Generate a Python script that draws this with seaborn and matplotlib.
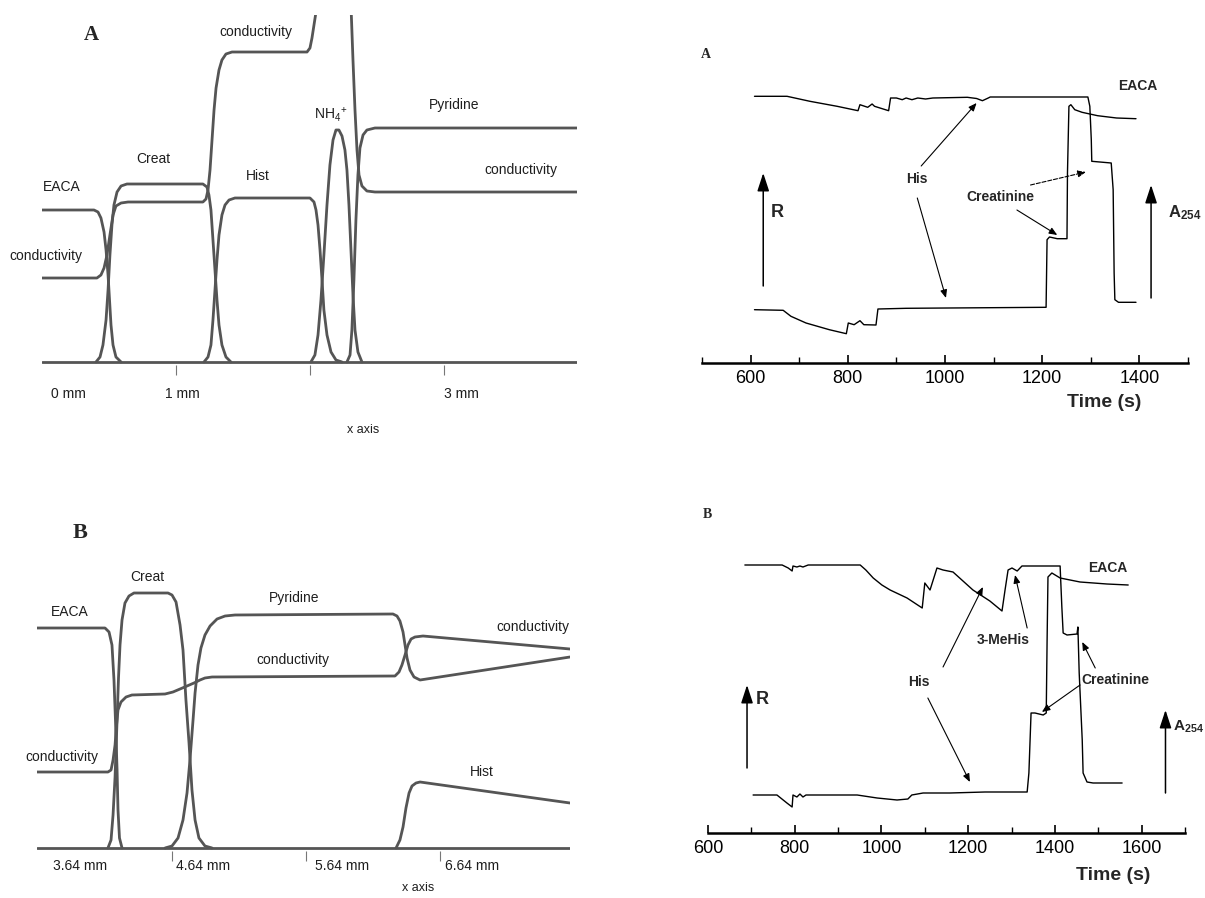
import matplotlib
matplotlib.use('Agg')
import matplotlib.pyplot as plt
import seaborn as sns

sns.set_theme(style='white')
plt.rcParams['font.family'] = ['Liberation Sans', 'DejaVu Sans']
plt.rcParams['mathtext.fontset'] = 'custom'
plt.rcParams['mathtext.rm'] = 'Liberation Sans'
plt.rcParams['mathtext.it'] = 'Liberation Sans:italic'
plt.rcParams['mathtext.bf'] = 'Liberation Sans:bold'

# ---------------- Simulation A (x in mm, arbitrary concentration) ----------------
simA_base_x = [0.0, 3.993]
simA_base_y = [0.0, 0.0]
simA_eaca_x = [0.0, 0.388, 0.418, 0.440, 0.463, 0.478, 0.493, 0.504, 0.515, 0.530, 0.552, 0.590]
simA_eaca_y = [1.52, 1.52, 1.50, 1.44, 1.30, 1.12, 0.87, 0.62, 0.37, 0.17, 0.05, 0.0]
simA_creat_x = [0.403, 0.433, 0.455, 0.478, 0.493, 0.507, 0.522, 0.537, 0.560, 0.590, 0.634,
                1.201, 1.231, 1.246, 1.261, 1.276, 1.291, 1.306, 1.321, 1.343, 1.373, 1.410]
simA_creat_y = [0, 0.05, 0.17, 0.42, 0.72, 1.07, 1.37, 1.57, 1.70, 1.76, 1.78,
                1.78, 1.75, 1.67, 1.52, 1.22, 0.92, 0.62, 0.37, 0.17, 0.05, 0]
simA_cond1_x = [0.0, 0.410, 0.440, 0.463, 0.485, 0.507, 0.530, 0.552, 0.590, 0.642,
                1.201, 1.224, 1.239, 1.254, 1.269, 1.284, 1.299, 1.321, 1.343, 1.373,
                1.418, 1.978, 2.000, 2.015, 2.030, 2.045]
simA_cond1_y = [0.84, 0.84, 0.87, 0.94, 1.07, 1.27, 1.47, 1.56, 1.59, 1.60,
                1.60, 1.63, 1.72, 1.92, 2.22, 2.52, 2.74, 2.92, 3.02, 3.08,
                3.10, 3.10, 3.14, 3.24, 3.37, 3.50]
simA_cond2_x = [2.306, 2.321, 2.336, 2.351, 2.366, 2.388, 2.425, 2.485, 3.993]
simA_cond2_y = [3.57, 3.02, 2.52, 2.12, 1.87, 1.76, 1.71, 1.70, 1.70]
simA_hist_x = [1.209, 1.239, 1.261, 1.276, 1.291, 1.306, 1.321, 1.343, 1.366, 1.396, 1.440,
               2.000, 2.030, 2.045, 2.060, 2.075, 2.090, 2.104, 2.127, 2.157, 2.194, 2.239]
simA_hist_y = [0, 0.05, 0.17, 0.42, 0.72, 1.02, 1.27, 1.47, 1.57, 1.62, 1.64,
               1.64, 1.60, 1.52, 1.37, 1.12, 0.82, 0.52, 0.27, 0.10, 0.02, 0]
simA_nh4_x = [2.007, 2.037, 2.060, 2.082, 2.104, 2.127, 2.149, 2.172, 2.194, 2.216,
              2.239, 2.261, 2.276, 2.291, 2.306, 2.321, 2.336, 2.358, 2.388]
simA_nh4_y = [0, 0.07, 0.27, 0.62, 1.07, 1.57, 1.97, 2.22, 2.32, 2.32,
              2.26, 2.12, 1.92, 1.57, 1.12, 0.67, 0.32, 0.10, 0]
simA_pyr_x = [2.276, 2.299, 2.313, 2.328, 2.343, 2.358, 2.373, 2.396, 2.425, 2.485, 3.993]
simA_pyr_y = [0, 0.07, 0.32, 0.82, 1.42, 1.87, 2.14, 2.27, 2.32, 2.34, 2.34]
simA_ticks = [1, 2, 3]
simA_ticklabels = [(0.20, '0 mm'), (1.045, '1 mm'), (3.127, '3 mm')]

# ---------------- Simulation B ----------------
simB_base_x = [3.633, 7.610]
simB_base_y = [0.0, 0.0]
simB_eaca_x = [3.633, 4.140, 4.170, 4.192, 4.207, 4.218, 4.230, 4.237, 4.248, 4.267]
simB_eaca_y = [2.20, 2.20, 2.16, 2.03, 1.68, 1.28, 0.78, 0.38, 0.10, 0.0]
simB_creat_x = [4.162, 4.185, 4.200, 4.215, 4.230, 4.241, 4.252, 4.267, 4.289, 4.319, 4.356,
                4.610, 4.640, 4.670, 4.700, 4.722, 4.744, 4.767, 4.789, 4.812, 4.841, 4.886, 4.939]
simB_creat_y = [0, 0.08, 0.33, 0.71, 1.28, 1.71, 2.03, 2.28, 2.45, 2.52, 2.55,
                2.55, 2.53, 2.46, 2.23, 1.98, 1.48, 1.05, 0.58, 0.28, 0.10, 0.02, 0]
simB_cond_x = [3.633, 4.162, 4.185, 4.200, 4.215, 4.226, 4.237, 4.259, 4.297, 4.341, 4.588,
               4.647, 4.700, 4.752, 4.804, 4.849, 4.886, 4.939, 6.304, 6.334, 6.356, 6.379,
               6.401, 6.424, 6.453, 6.513, 7.610]
simB_cond_y = [0.76, 0.76, 0.78, 0.88, 1.03, 1.23, 1.38, 1.46, 1.51, 1.53, 1.54,
               1.56, 1.59, 1.62, 1.65, 1.68, 1.70, 1.71, 1.72, 1.76, 1.83, 1.93,
               2.03, 2.09, 2.11, 2.12, 1.99]
simB_pyr_x = [4.588, 4.640, 4.685, 4.722, 4.752, 4.774, 4.797, 4.812, 4.834, 4.856, 4.886,
              4.924, 4.976, 5.036, 5.110, 6.289, 6.319, 6.341, 6.364, 6.379, 6.394, 6.416,
              6.446, 6.491, 7.610]
simB_pyr_y = [0, 0.02, 0.10, 0.28, 0.55, 0.88, 1.28, 1.55, 1.83, 2.00, 2.13,
              2.22, 2.29, 2.32, 2.33, 2.34, 2.32, 2.27, 2.16, 2.03, 1.90, 1.78,
              1.71, 1.68, 1.91]
simB_hist_x = [6.312, 6.341, 6.364, 6.386, 6.409, 6.431, 6.461, 6.491, 7.610]
simB_hist_y = [0, 0.08, 0.21, 0.40, 0.55, 0.62, 0.65, 0.66, 0.45]
simB_ticks = [4.64, 5.64, 6.64]
simB_ticklabels = [(3.953, '3.64 mm'), (4.871, '4.64 mm'), (5.909, '5.64 mm'), (6.879, '6.64 mm')]

# ---------------- Experiment A (time in s) ----------------
expA_R_t = [608, 675, 722, 778, 821, 825, 841, 850, 855, 884, 888, 900, 912, 920, 932,
            944, 960, 975, 1046, 1065, 1077, 1089, 1093, 1294, 1298, 1301, 1302, 1342,
            1346, 1348, 1349.5, 1357, 1393]
expA_R_v = [2.667, 2.667, 2.617, 2.567, 2.523, 2.583, 2.557, 2.590, 2.567, 2.523, 2.650,
            2.650, 2.633, 2.650, 2.633, 2.650, 2.640, 2.650, 2.657, 2.645, 2.623, 2.650,
            2.660, 2.660, 2.567, 2.233, 2.017, 2.000, 1.733, 0.900, 0.633, 0.607, 0.607]
expA_A_t = [608, 667, 683, 714, 762, 797, 801, 813, 825, 833, 858, 862, 920, 1208, 1210,
            1215, 1231, 1251, 1252, 1255, 1259, 1267, 1282, 1314, 1353, 1393]
expA_A_v = [0.533, 0.527, 0.467, 0.400, 0.333, 0.293, 0.400, 0.383, 0.423, 0.383, 0.380,
            0.540, 0.547, 0.557, 1.233, 1.260, 1.243, 1.243, 1.900, 2.567, 2.583, 2.533,
            2.507, 2.473, 2.450, 2.443]
expA_major = [600, 800, 1000, 1200, 1400]
expA_minor = [500, 700, 900, 1100, 1300, 1500]

# ---------------- Experiment B ----------------
expB_R_t = [685, 771, 785, 794, 796, 805, 812, 819, 831, 951, 964, 981, 1001, 1020, 1059,
            1094, 1100, 1112, 1128, 1142, 1165, 1211, 1250, 1278, 1285, 1292, 1301, 1313,
            1324, 1412, 1416, 1419, 1428, 1451, 1453, 1456, 1463, 1465, 1474, 1488, 1555]
expB_R_v = [2.68, 2.68, 2.65, 2.62, 2.67, 2.66, 2.67, 2.66, 2.68, 2.68, 2.63, 2.55, 2.48,
            2.43, 2.35, 2.25, 2.50, 2.43, 2.65, 2.63, 2.61, 2.43, 2.32, 2.22, 2.43, 2.63,
            2.65, 2.62, 2.67, 2.67, 2.26, 2.00, 1.98, 1.99, 2.06, 1.60, 0.93, 0.60, 0.51,
            0.50, 0.50]
expB_A_t = [704, 759, 782, 794, 796, 805, 812, 819, 826, 944, 990, 1036, 1061, 1070, 1096,
            1158, 1239, 1336, 1340, 1345, 1354, 1373, 1380, 1382, 1384, 1393, 1412, 1458,
            1520, 1569]
expB_A_v = [0.38, 0.38, 0.30, 0.26, 0.38, 0.36, 0.39, 0.36, 0.38, 0.38, 0.35, 0.33, 0.34,
            0.38, 0.40, 0.40, 0.41, 0.41, 0.60, 1.20, 1.20, 1.18, 1.20, 1.93, 2.56, 2.60,
            2.55, 2.51, 2.49, 2.48]
expB_major = [600, 800, 1000, 1200, 1400, 1600]
expB_minor = [700, 900, 1100, 1300, 1500, 1700]

# ---------------- Figure ----------------
W, H = 1205, 898
fig = plt.figure(figsize=(W / 100, H / 100), dpi=100)


def rect(x0, x1, ytop, ybot):
    return [x0 / W, 1 - ybot / H, (x1 - x0) / W, (ybot - ytop) / H]


SIM_C = '#555555'
SIM_LW = 2.0
TXT_C = '#1e1e1e'


def sim_line(ax, x, y):
    sns.lineplot(x=x, y=y, ax=ax, color=SIM_C, lw=SIM_LW, sort=False, estimator=None)


def exp_line(ax, x, y):
    sns.lineplot(x=x, y=y, ax=ax, color='black', lw=1.0, sort=False, estimator=None)


def clean_sim(ax, ticks):
    for s in ax.spines.values():
        s.set_visible(False)
    ax.set_xticks(ticks)
    ax.set_xticklabels([])
    ax.set_yticks([])
    ax.tick_params(axis='x', direction='inout', length=7, width=0.8, colors='#777777', bottom=True)
    ax.set_xlabel('')
    ax.set_ylabel('')
    ax.set_facecolor('none')


def clean_exp(ax, major, minor):
    for k in ['top', 'left', 'right']:
        ax.spines[k].set_visible(False)
    ax.spines['bottom'].set_linewidth(1.8)
    ax.spines['bottom'].set_color('black')
    ax.set_yticks([])
    ax.set_xticks(major)
    ax.set_xticks(minor, minor=True)
    ax.set_xticklabels([str(m) for m in major])
    ax.tick_params(axis='x', which='major', direction='in', length=6, width=1.2,
                   colors='black', labelsize=13, pad=5, bottom=True)
    ax.tick_params(axis='x', which='minor', direction='in', length=4, width=1.0,
                   colors='black', bottom=True)
    ax.set_xlabel('')
    ax.set_ylabel('')
    ax.set_facecolor('none')


def arrow(ax, start, end, lw=0.8, ms=8, ls='-'):
    ax.annotate('', xy=end, xytext=start,
                arrowprops=dict(arrowstyle='-|>,head_length=0.6,head_width=0.25', color='black',
                                lw=lw, mutation_scale=ms, shrinkA=0, shrinkB=0, linestyle=ls))


def big_arrow(ax, x, y0, y1):
    ax.annotate('', xy=(x, y1), xytext=(x, y0),
                arrowprops=dict(arrowstyle='-|>,head_length=0.55,head_width=0.18', color='black',
                                lw=1.1, mutation_scale=20, shrinkA=0, shrinkB=0))


# ---- Top-left: simulation A ----
axA = fig.add_axes(rect(42, 577, 15, 370))
axA.set_xlim(0, 3.993)
axA.set_ylim(-0.08, 3.47)
for xs, ys in [(simA_base_x, simA_base_y), (simA_eaca_x, simA_eaca_y), (simA_creat_x, simA_creat_y),
               (simA_cond1_x, simA_cond1_y), (simA_cond2_x, simA_cond2_y), (simA_hist_x, simA_hist_y),
               (simA_nh4_x, simA_nh4_y), (simA_pyr_x, simA_pyr_y)]:
    sim_line(axA, xs, ys)
clean_sim(axA, simA_ticks)
fs = 10
for (x, y, s) in [(1.597, 3.30, 'conductivity'), (0.828, 2.03, 'Creat'), (0.149, 1.75, 'EACA'),
                  (0.030, 1.06, 'conductivity'), (1.612, 1.86, 'Hist'), (2.157, 2.47, r'NH$_4$$^{+}$'),
                  (3.075, 2.57, 'Pyridine'), (3.575, 1.92, 'conductivity')]:
    axA.text(x, y, s, fontsize=fs, color=TXT_C, ha='center', va='center', clip_on=False)
for (x, s) in simA_ticklabels:
    axA.text(x, -0.32, s, fontsize=fs, color=TXT_C, ha='center', va='center', clip_on=False)
axA.text(2.396, -0.68, 'x axis', fontsize=9, color=TXT_C, ha='center', va='center', clip_on=False)
fig.text(91 / W, 1 - 35 / H, 'A', fontsize=15, fontweight='bold', family='Liberation Serif',
         ha='center', va='center')

# ---- Bottom-left: simulation B ----
axB = fig.add_axes(rect(37, 570, 560, 856))
axB.set_xlim(3.6325, 7.6101)
axB.set_ylim(-0.08, 2.88)
for xs, ys in [(simB_base_x, simB_base_y), (simB_eaca_x, simB_eaca_y), (simB_creat_x, simB_creat_y),
               (simB_cond_x, simB_cond_y), (simB_pyr_x, simB_pyr_y), (simB_hist_x, simB_hist_y)]:
    sim_line(axB, xs, ys)
clean_sim(axB, simB_ticks)
for (x, y, s) in [(3.879, 2.36, 'EACA'), (4.453, 2.71, 'Creat'), (5.55, 2.50, 'Pyridine'),
                  (5.543, 1.88, 'conductivity'), (3.819, 0.91, 'conductivity'),
                  (7.334, 2.21, 'conductivity'), (6.953, 0.76, 'Hist')]:
    axB.text(x, y, s, fontsize=fs, color=TXT_C, ha='center', va='center', clip_on=False)
for (x, s) in simB_ticklabels:
    axB.text(x, -0.18, s, fontsize=fs, color=TXT_C, ha='center', va='center', clip_on=False)
axB.text(6.476, -0.40, 'x axis', fontsize=9, color=TXT_C, ha='center', va='center', clip_on=False)
fig.text(80 / W, 1 - 533 / H, 'B', fontsize=16, fontweight='bold', family='Liberation Serif',
         ha='center', va='center')

# ---- Top-right: experiment A ----
axC = fig.add_axes(rect(702, 1188, 60, 363))
axC.set_xlim(500, 1500)
axC.set_ylim(0, 3.03)
exp_line(axC, expA_R_t, expA_R_v)
exp_line(axC, expA_A_t, expA_A_v)
clean_exp(axC, expA_major, expA_minor)
axC.text(1396, 2.77, 'EACA', fontsize=10, fontweight='bold', ha='center', va='center')
axC.text(942, 1.84, 'His', fontsize=10, fontweight='bold', ha='center', va='center')
arrow(axC, (951, 1.97), (1065, 2.60))
arrow(axC, (943, 1.65), (1002, 0.65))
axC.text(1113, 1.66, 'Creatinine', fontsize=10, fontweight='bold', ha='center', va='center')
arrow(axC, (1176, 1.78), (1290, 1.91), ls='--')
arrow(axC, (1148, 1.53), (1231, 1.28))
big_arrow(axC, 626, 0.77, 1.90)
axC.text(654, 1.50, 'R', fontsize=13, fontweight='bold', ha='center', va='center')
big_arrow(axC, 1424, 0.65, 1.78)
axC.text(1458, 1.50, r'A$_{\mathbf{254}}$', fontsize=12, fontweight='bold', ha='left', va='center',
         clip_on=False)
axC.text(1327, -0.40, 'Time (s)', fontsize=14, fontweight='bold', ha='center', va='center',
         clip_on=False)
fig.text(706 / W, 1 - 54 / H, 'A', fontsize=10, fontweight='bold', family='Liberation Serif',
         ha='center', va='center')

# ---- Bottom-right: experiment B ----
axD = fig.add_axes(rect(708, 1185, 530, 833))
axD.set_xlim(600, 1700)
axD.set_ylim(0, 3.03)
exp_line(axD, expB_R_t, expB_R_v)
exp_line(axD, expB_A_t, expB_A_v)
clean_exp(axD, expB_major, expB_minor)
axD.text(1522, 2.65, 'EACA', fontsize=10, fontweight='bold', ha='center', va='center')
axD.text(1280, 1.93, '3-MeHis', fontsize=10, fontweight='bold', ha='center', va='center')
arrow(axD, (1336, 2.05), (1308, 2.58))
axD.text(1539, 1.53, 'Creatinine', fontsize=10, fontweight='bold', ha='center', va='center')
arrow(axD, (1493, 1.65), (1463, 1.91))
arrow(axD, (1458, 1.48), (1370, 1.21))
axD.text(1087, 1.51, 'His', fontsize=10, fontweight='bold', ha='center', va='center')
arrow(axD, (1142, 1.66), (1234, 2.46))
arrow(axD, (1107, 1.35), (1204, 0.51))
big_arrow(axD, 690, 0.65, 1.48)
axD.text(725, 1.33, 'R', fontsize=13, fontweight='bold', ha='center', va='center')
big_arrow(axD, 1655, 0.40, 1.23)
axD.text(1673, 1.06, r'A$_{\mathbf{254}}$', fontsize=11, fontweight='bold', ha='left', va='center',
         clip_on=False)
axD.text(1534, -0.42, 'Time (s)', fontsize=14, fontweight='bold', ha='center', va='center',
         clip_on=False)
fig.text(707 / W, 1 - 515 / H, 'B', fontsize=10, fontweight='bold', family='Liberation Serif',
         ha='center', va='center')

fig.savefig('out.png', dpi=100, facecolor='white')
